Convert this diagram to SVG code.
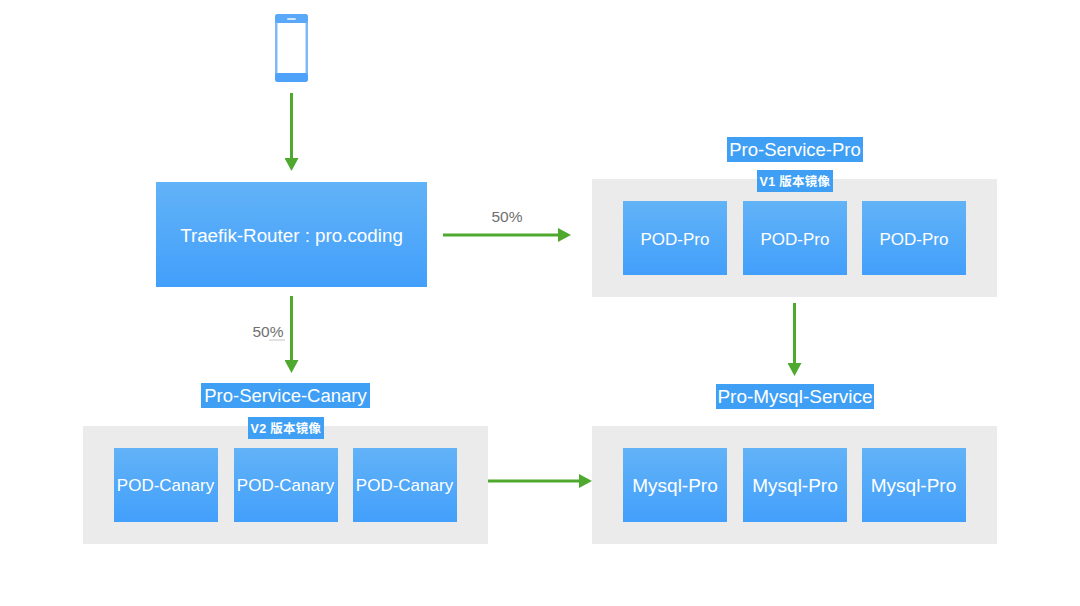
<svg xmlns="http://www.w3.org/2000/svg" width="1080" height="606" viewBox="0 0 1080 606">
<style>
text{font-family:"Liberation Sans",Arial,"Noto Sans CJK SC",sans-serif;text-anchor:middle}
.pod{fill:url(#g)}
.podt{fill:#fff;font-size:17px}
.my{font-size:19px}
.panel{fill:#ebebeb}
.lab{fill:#3f9ff5}
.labt{fill:#fff;font-size:18.500px}
.small{fill:#fff;font-size:12.500px;font-weight:bold;letter-spacing:.3px}
.pct{fill:#6f6f6f;font-size:15.500px}
.c{stroke:#4fa92f;stroke-width:3;fill:none;marker-end:url(#a)}
</style>
<defs>
<linearGradient id="g" x1="0" y1="0" x2="0" y2="1"><stop offset="0" stop-color="#62b3f7"/><stop offset="1" stop-color="#429ffb"/></linearGradient>
<marker id="a" markerUnits="userSpaceOnUse" markerWidth="13" markerHeight="14" refX="2" refY="7" orient="auto"><path d="M0 0L13 7L0 14Z" fill="#4fa92f"/></marker>
</defs>
<rect width="1080" height="606" fill="#fff"/>
<g id="phone">
<rect x="275" y="14" width="33" height="68" rx="3" fill="#7db9f9"/>
<rect x="275" y="14" width="33" height="9" rx="3" fill="#5aa9f8"/>
<rect x="275" y="73" width="33" height="9" rx="3" fill="#4fa2fa"/>
<rect x="277.500" y="23" width="28" height="50" fill="#fff"/>
<rect x="287" y="18" width="9" height="2" rx="1" fill="#cfe5fb"/>
</g>
<g id="router">
<rect class="pod" x="156" y="182" width="271" height="105"/>
<text class="podt" x="291.500" y="242" style="font-size:18.800px">Traefik-Router : pro.coding</text>
</g>
<g id="service-pro">
<rect class="panel" x="592" y="179" width="405" height="118"/>
<rect class="lab" x="727" y="137" width="136" height="25"/>
<text class="labt" x="795" y="156">Pro-Service-Pro</text>
<rect class="lab" x="757" y="170" width="76" height="22"/>
<text class="small" x="795" y="186">V1 版本镜像</text>
</g>
<g id="pod-pro-1"><rect class="pod" x="623" y="201" width="104" height="74"/><text class="podt" x="675" y="245">POD-Pro</text></g>
<g id="pod-pro-2"><rect class="pod" x="743" y="201" width="104" height="74"/><text class="podt" x="795" y="245">POD-Pro</text></g>
<g id="pod-pro-3"><rect class="pod" x="862" y="201" width="104" height="74"/><text class="podt" x="914" y="245">POD-Pro</text></g>
<g id="service-canary">
<rect class="panel" x="83" y="426" width="405" height="118"/>
<rect class="lab" x="201" y="383" width="169" height="25"/>
<text class="labt" x="285.500" y="402">Pro-Service-Canary</text>
<rect class="lab" x="248" y="417" width="76" height="22"/>
<text class="small" x="286" y="433">V2 版本镜像</text>
</g>
<g id="pod-canary-1"><rect class="pod" x="114" y="448" width="104" height="74"/><text class="podt" x="165.500" y="491">POD-Canary</text></g>
<g id="pod-canary-2"><rect class="pod" x="234" y="448" width="104" height="74"/><text class="podt" x="285.500" y="491">POD-Canary</text></g>
<g id="pod-canary-3"><rect class="pod" x="353" y="448" width="104" height="74"/><text class="podt" x="404.500" y="491">POD-Canary</text></g>
<g id="mysql-service">
<rect class="panel" x="592" y="426" width="405" height="118"/>
<rect class="lab" x="716" y="384" width="158" height="25"/>
<text class="labt" x="795" y="403" style="font-size:19px">Pro-Mysql-Service</text>
</g>
<g id="mysql-1"><rect class="pod" x="623" y="448" width="104" height="74"/><text class="podt my" x="675" y="491.500">Mysql-Pro</text></g>
<g id="mysql-2"><rect class="pod" x="743" y="448" width="104" height="74"/><text class="podt my" x="795" y="491.500">Mysql-Pro</text></g>
<g id="mysql-3"><rect class="pod" x="862" y="448" width="104" height="74"/><text class="podt my" x="913.500" y="491.500">Mysql-Pro</text></g>
<g id="connectors">
<path class="c" d="M291.500 93V160"/>
<path class="c" d="M291.500 296V362"/>
<path class="c" d="M443 235H560"/>
<path class="c" d="M794.500 303V365"/>
<path class="c" d="M488 481H581"/>
</g>
<text class="pct" x="507" y="222">50%</text>
<text class="pct" x="268" y="337">50%</text>
<path d="M269 340H285" stroke="#b5b5b5" stroke-width="0.800" fill="none"/>
</svg>
